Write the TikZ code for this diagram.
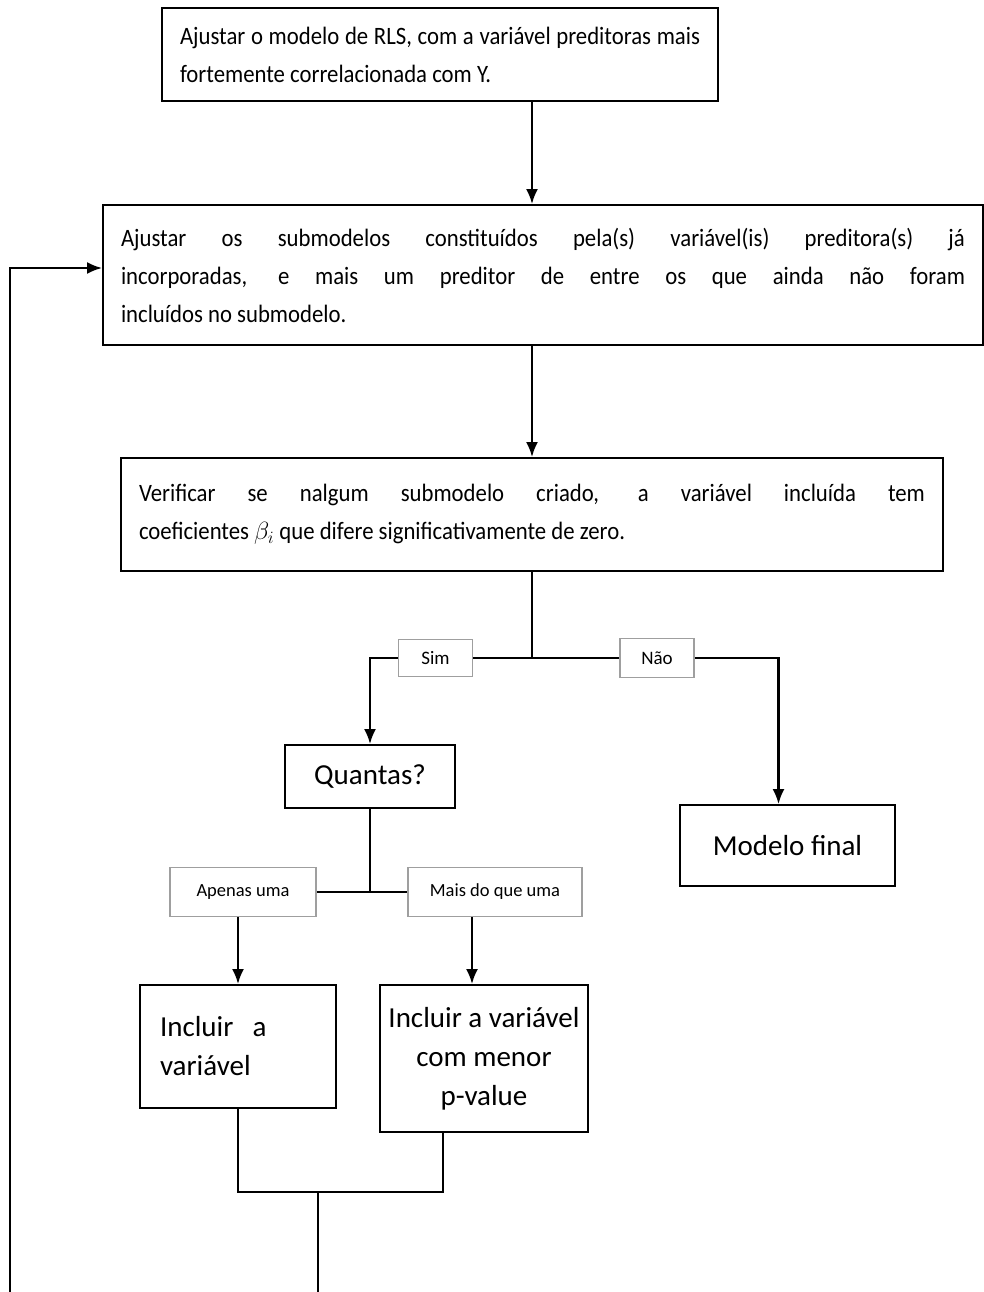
\documentclass[tikz,border=0pt]{standalone}
\usepackage{fontspec}
\setmainfont{Carlito}
\newfontfamily\tallfont[FakeStretch=0.91]{Carlito}
\usetikzlibrary{arrows.meta}

\begin{document}
\begin{tikzpicture}[x=1pt, y=-1pt,
    procbox/.style={rectangle, draw, line width=1.8pt, inner xsep=18pt, inner ysep=0pt, align=justify,
      font={\tallfont\fontsize{25}{38}\selectfont\hyphenpenalty10000}},
    bigbox/.style={rectangle, draw, line width=1.8pt, inner sep=0pt, align=center,
      font={\fontsize{29}{39}\selectfont}},
    tagbox/.style={rectangle, draw=gray!75, line width=1.6pt, inner sep=0pt, align=center},
    link/.style={line width=2.4pt},
    flow/.style={line width=2.4pt, -{Latex[length=15pt,width=12pt]}}
]
\useasboundingbox (0,0) rectangle (984,1292);

% main steps
\node (top) [procbox, text width=520pt, minimum height=93pt] at (440,54.5)
  {Ajustar o modelo de RLS, com a variável preditoras mais\linebreak fortemente correlacionada com Y.};
\node (sub) [procbox, text width=844pt, minimum height=140pt] at (543,275)
  {Ajustar os submodelos constituídos pela(s) variável(is) preditora(s) já\linebreak incorporadas, e mais um preditor de entre os que ainda não foram\linebreak incluídos no submodelo.};
\node (check) [procbox, text width=786pt, minimum height=113pt] at (532,514.5)
  {Verificar se nalgum submodelo criado, a variável incluída tem\linebreak coeficientes $\beta_i$ que difere significativamente de zero.};

% answers
\node (sim) [tagbox, minimum width=74pt, minimum height=37pt, font=\fontsize{19}{21}\selectfont] at (435.5,658) {Sim};
\node (nao) [tagbox, minimum width=74pt, minimum height=39pt, font=\fontsize{19}{21}\selectfont] at (657,658) {Não};

\node (quantas) [bigbox, minimum width=170pt, minimum height=63pt] at (370,776.5) {Quantas?};
\node (final) [bigbox, minimum width=215pt, minimum height=81pt] at (787.5,845.5) {Modelo final};

\node (apenas) [tagbox, minimum width=146pt, minimum height=49pt, font=\fontsize{18.5}{20}\selectfont] at (243,892) {Apenas uma};
\node (mais) [tagbox, minimum width=174pt, minimum height=49pt, font=\fontsize{18.5}{20}\selectfont] at (495,892) {Mais do que uma};

\node (incone) [bigbox, text width=156pt, inner xsep=20pt, align=left, minimum height=123pt] at (238,1046.5)
  {Incluir~~a\\variável};
\node (incmenor) [bigbox, minimum width=208pt, minimum height=147pt] at (484,1058.5)
  {Incluir a variável\\com menor\\p-value};

% helper points
\coordinate (fork) at (532,658);
\coordinate (split) at (370,892);
\coordinate (drop) at ([xshift=-12pt]incmenor.north);
\coordinate (merge) at (318,1192);
\coordinate (out) at (318,1292);
\coordinate (back) at (10,1292);

% connectors
\draw [flow] (check.north |- top.south) -- (check.north |- sub.north);
\draw [flow] (check.north |- sub.south) -- (check.north);
\draw [link] (check.south) -- (fork);
\draw [link] (sim.east) -- (nao.west);
\draw [flow] (sim.west) -| (quantas.north);
\draw [flow] (nao.east) -| ([xshift=-9pt]final.north);
\draw [link] (quantas.south) -- (split);
\draw [link] (apenas.east) -- (mais.west);
\draw [flow] (incone.north |- apenas.south) -- (incone.north);
\draw [flow] (drop |- mais.south) -- (drop);
\draw [link] (incone.south) |- (merge) -| ([xshift=-41pt]incmenor.south);
\draw [link] (merge) -- (out);
\draw [flow] (back) |- ([yshift=7pt]sub.west);

\end{tikzpicture}
\end{document}
